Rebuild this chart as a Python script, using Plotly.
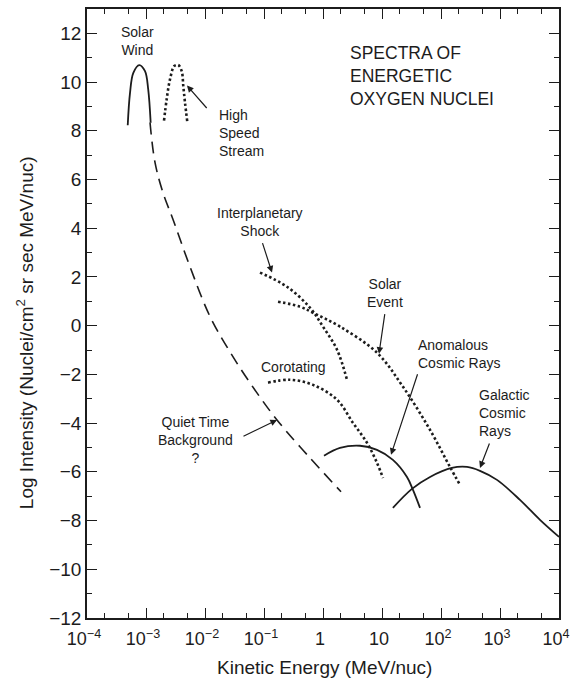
import plotly.graph_objects as go

# Energy spectra of energetic oxygen nuclei (kinetic energy in MeV/nuc, log10 intensity)
solar_wind_e = [4.90e-4, 5.36e-4, 6.10e-4, 7.69e-4, 9.62e-4, 1.09e-3, 1.20e-3]
solar_wind_i = [8.23, 9.56, 10.38, 10.70, 10.45, 9.70, 8.33]

high_speed_e = [2.02e-3, 2.24e-3, 2.55e-3, 3.02e-3, 3.52e-3, 4.03e-3, 4.29e-3, 4.58e-3, 5.01e-3]
high_speed_i = [8.42, 9.29, 10.11, 10.66, 10.70, 10.45, 9.83, 9.16, 8.37]

quiet_e = [1.17e-3, 1.42e-3, 1.94e-3, 2.87e-3, 5.57e-3, 1.22e-2, 2.99e-2, 7.60e-2, 0.166, 0.407, 2.02]
quiet_i = [8.34, 6.70, 5.46, 4.36, 2.42, 0.37, -1.28, -2.76, -3.87, -4.97, -6.82]

shock_e = [0.0855, 0.245, 0.60, 1.0, 1.73, 2.55]
shock_i = [2.18, 1.60, 0.74, -0.04, -0.99, -2.22]

solar_event_e = [0.173, 0.407, 0.678, 1.94, 8.22, 22.7, 65.2, 142, 210]
solar_event_i = [0.985, 0.78, 0.53, -0.04, -1.11, -2.51, -4.28, -5.80, -6.54]

corotating_e = [0.117, 0.276, 0.678, 1.73, 3.22, 5.57, 8.22, 10.4]
corotating_i = [-2.34, -2.22, -2.43, -3.04, -3.99, -4.81, -5.63, -6.25]

anomalous_e = [1.04, 1.94, 4.24, 8.22, 15.3, 26.5, 33.5, 44.1]
anomalous_i = [-5.34, -5.02, -4.93, -5.10, -5.51, -6.21, -6.74, -7.48]

galactic_e = [15.3, 32.2, 65.2, 153, 276, 458, 889, 2180, 4760, 10000]
galactic_i = [-7.48, -6.70, -6.21, -5.84, -5.80, -5.96, -6.33, -7.15, -7.97, -8.67]

x_tick_vals = [1e-4, 1e-3, 1e-2, 1e-1, 1, 10, 1e2, 1e3, 1e4]
x_tick_text = ["10<sup>−4</sup>", "10<sup>−3</sup>", "10<sup>−2</sup>", "10<sup>−1</sup>",
               "1", "10", "10<sup>2</sup>", "10<sup>3</sup>", "10<sup>4</sup>"]
y_tick_vals = [12, 10, 8, 6, 4, 2, 0, -2, -4, -6, -8, -10, -12]
y_tick_text = ["12", "10", "8", "6", "4", "2", "0", "−2", "−4", "−6", "−8", "−10", "−12"]

INK = "#1c1c1c"
FONT = "Liberation Sans"

fig = go.Figure()

def curve(x, y, dash, width):
    fig.add_trace(go.Scatter(
        x=x, y=y, mode="lines", line_shape="spline",
        line=dict(color=INK, width=width, dash=dash, smoothing=1.0),
        hoverinfo="skip", showlegend=False))

curve(solar_wind_e, solar_wind_i, "solid", 1.8)
curve(high_speed_e, high_speed_i, "2.5px,2.5px", 2.6)
curve(quiet_e, quiet_i, "12px,7px", 1.6)
curve(shock_e, shock_i, "2.5px,2.5px", 2.6)
curve(solar_event_e, solar_event_i, "2.5px,2.5px", 2.6)
curve(corotating_e, corotating_i, "2.5px,2.5px", 2.6)
curve(anomalous_e, anomalous_i, "solid", 1.8)
curve(galactic_e, galactic_i, "solid", 1.8)

# Curve labels (x positions in log10 units on the log axis)
labels = [
    ("Solar<br>Wind", -3.136, 11.67, "center"),
    ("High<br>Speed<br>Stream", -1.797, 7.89, "left"),
    ("Interplanetary<br>Shock", -1.068, 4.27, "center"),
    ("Solar<br>Event", 1.051, 1.35, "center"),
    ("Anomalous<br>Cosmic Rays", 1.576, -1.15, "left"),
    ("Corotating", -0.492, -1.69, "center"),
    ("Quiet Time<br>Background<br>?", -2.169, -4.69, "center"),
    ("Galactic<br>Cosmic<br>Rays", 2.610, -3.58, "left"),
]
for text, lx, ly, anchor in labels:
    fig.add_annotation(x=lx, y=ly, xref="x", yref="y", text=text, showarrow=False,
                       xanchor=anchor, yanchor="middle", align=anchor,
                       font=dict(family=FONT, size=14, color=INK))

fig.add_annotation(x=0.424, y=10.23, xref="x", yref="y",
                   text="SPECTRA OF<br>ENERGETIC<br>OXYGEN NUCLEI", showarrow=False,
                   xanchor="left", yanchor="middle", align="left",
                   font=dict(family=FONT, size=17.5, color=INK))

# Pointer arrows: head position in data units, tail offset in pixels
arrows = [
    (-2.305, 9.86, 21, 24),
    (-0.864, 2.18, -10, -31),
    (0.949, -1.15, 6, -41),
    (1.153, -5.30, 27, -82),
    (-0.780, -3.87, -35, 17),
    (2.661, -5.84, 10, -26),
]
for hx, hy, ax, ay in arrows:
    fig.add_annotation(x=hx, y=hy, xref="x", yref="y", text="", showarrow=True,
                       ax=ax, ay=ay, arrowhead=2, arrowsize=1.1, arrowwidth=1.2,
                       arrowcolor=INK, standoff=0, startstandoff=0)

# Axis titles
fig.add_annotation(x=0.503, y=-0.082, xref="paper", yref="paper",
                   text="Kinetic Energy (MeV/nuc)", showarrow=False,
                   xanchor="center", yanchor="middle",
                   font=dict(family=FONT, size=19, color=INK))
fig.add_annotation(x=-0.131, y=0.468, xref="paper", yref="paper", textangle=-90,
                   text="Log Intensity (Nuclei/cm<sup>2</sup> sr sec MeV/nuc)", showarrow=False,
                   xanchor="center", yanchor="middle",
                   font=dict(family=FONT, size=19, color=INK))

minor_x = [m * 10.0 ** d for d in range(-4, 4) for m in (2, 5)]
minor_y = list(range(-11, 13, 2))

axis_common = dict(showline=True, linecolor=INK, linewidth=1.6, mirror="allticks",
                   ticks="inside", ticklen=10, tickwidth=1.4, tickcolor=INK,
                   showgrid=False, zeroline=False, ticklabeloverflow="allow",
                   automargin=False)

fig.update_xaxes(type="log", range=[-4, 4], tickvals=x_tick_vals, ticktext=x_tick_text,
                 ticklabelshift=-3, ticklabelstandoff=4,
                 tickfont=dict(family=FONT, size=18, color=INK),
                 minor=dict(tickvals=minor_x, ticks="inside", ticklen=5, tickwidth=1.2,
                            tickcolor=INK, showgrid=False),
                 **axis_common)
fig.update_yaxes(range=[-12, 13], tickvals=y_tick_vals, ticktext=y_tick_text,
                 tickfont=dict(family=FONT, size=19, color=INK),
                 minor=dict(tickvals=minor_y, ticks="inside", ticklen=5, tickwidth=1.2,
                            tickcolor=INK, showgrid=False),
                 **axis_common)

fig.update_layout(width=571, height=680, margin=dict(l=87, r=12, t=9, b=62),
                  paper_bgcolor="white", plot_bgcolor="white",
                  font=dict(family=FONT, color=INK))

fig.write_html("out.html")
